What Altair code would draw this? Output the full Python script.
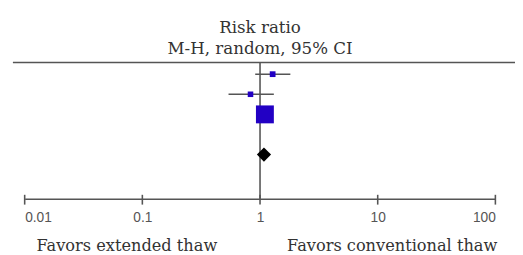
import altair as alt
import pandas as pd

# ---- data ----
studies = ["Study 1", "Study 2", "Study 3"]
study_row = [0, 1, 2]
rr = [1.28, 0.83, 1.10]
ci_low = [0.91, 0.54, 1.00]
ci_high = [1.81, 1.31, 1.21]
weights = [8.6, 8.0, 83.4]
pooled_label = ["Total"]
pooled_row = [4]
pooled_rr = [1.08]
tick_values = [0.01, 0.1, 1, 10, 100]
title_lines = ["Risk ratio", "M-H, random, 95% CI"]
left_label = "Favors extended thaw"
right_label = "Favors conventional thaw"

W, H = 480, 139
LINE = "#555555"
BLUE = "#2200c4"
SERIF = "DejaVu Serif"

xscale = alt.Scale(type="log", domain=[0.01, 100], nice=False)
yscale = alt.Scale(domain=[-0.585, 6.195], reverse=True, zero=False, nice=False)
xaxis = alt.Axis(
    values=tick_values, format="~g", labelFlush=True, labelOverlap=False,
    ticks=False, domainColor=LINE, domainWidth=1.6, grid=False, title=None,
    labelFont="Liberation Sans", labelFontSize=14, labelColor="#555555",
    labelPadding=12)

studies_df = pd.DataFrame({"study": studies, "row": study_row, "rr": rr,
                           "lo": ci_low, "hi": ci_high, "w": weights})
pooled_df = pd.DataFrame({"study": pooled_label, "row": pooled_row, "rr": pooled_rr})
null_df = pd.DataFrame({"v": [1]})
ticks_df = pd.DataFrame({"t": tick_values})

vline = alt.Chart(null_df).mark_rule(color=LINE, strokeWidth=1.6).encode(
    x=alt.X("v:Q", scale=xscale, axis=xaxis)
)

ticks = alt.Chart(ticks_df).mark_rule(color=LINE, strokeWidth=1.6).encode(
    x=alt.X("t:Q", scale=xscale, axis=xaxis),
    y=alt.value(H - 4), y2=alt.value(H + 6)
)

topline = alt.Chart(null_df).mark_rule(color=LINE, strokeWidth=1.6).encode(
    x=alt.value(-12), x2=alt.value(W + 30), y=alt.value(0)
)

ci = alt.Chart(studies_df).mark_rule(color=LINE, strokeWidth=1.6).encode(
    x=alt.X("lo:Q", scale=xscale, axis=xaxis), x2="hi:Q",
    y=alt.Y("row:Q", scale=yscale, axis=None)
)

squares = alt.Chart(studies_df).mark_square(color=BLUE, opacity=1).encode(
    x=alt.X("rr:Q", scale=xscale, axis=xaxis),
    y=alt.Y("row:Q", scale=yscale, axis=None),
    size=alt.Size("w:Q", scale=alt.Scale(domain=[0, 100], range=[0, 400]), legend=None)
)

diamond = alt.Chart(pooled_df).mark_point(shape="diamond", filled=True, color="black", opacity=1, size=210).encode(
    x=alt.X("rr:Q", scale=xscale, axis=xaxis),
    y=alt.Y("row:Q", scale=yscale, axis=None)
)

def label(text, x, y, align, size):
    return alt.Chart(null_df).mark_text(text=text, font=SERIF, fontSize=size, color="#333333",
                                        align=align, baseline="alphabetic").encode(
        x=alt.value(x), y=alt.value(y))

t1 = label(title_lines[0], W / 2, -30, "center", 17)
t2 = label(title_lines[1], W / 2, -9, "center", 17)
lt = label(left_label, 12, 192, "left", 16.5)
rt = label(right_label, W + 2, 192, "right", 16.5)

chart = alt.layer(vline, ticks, topline, ci, squares, diamond, t1, t2, lt, rt).properties(
    width=W, height=H,
    autosize=alt.AutoSizeParams(type="none"),
    padding={"left": 17, "top": 53, "right": 20, "bottom": 60},
).configure_view(stroke=None)

chart.save("out.html", embed_options={"renderer": "svg", "actions": False})
